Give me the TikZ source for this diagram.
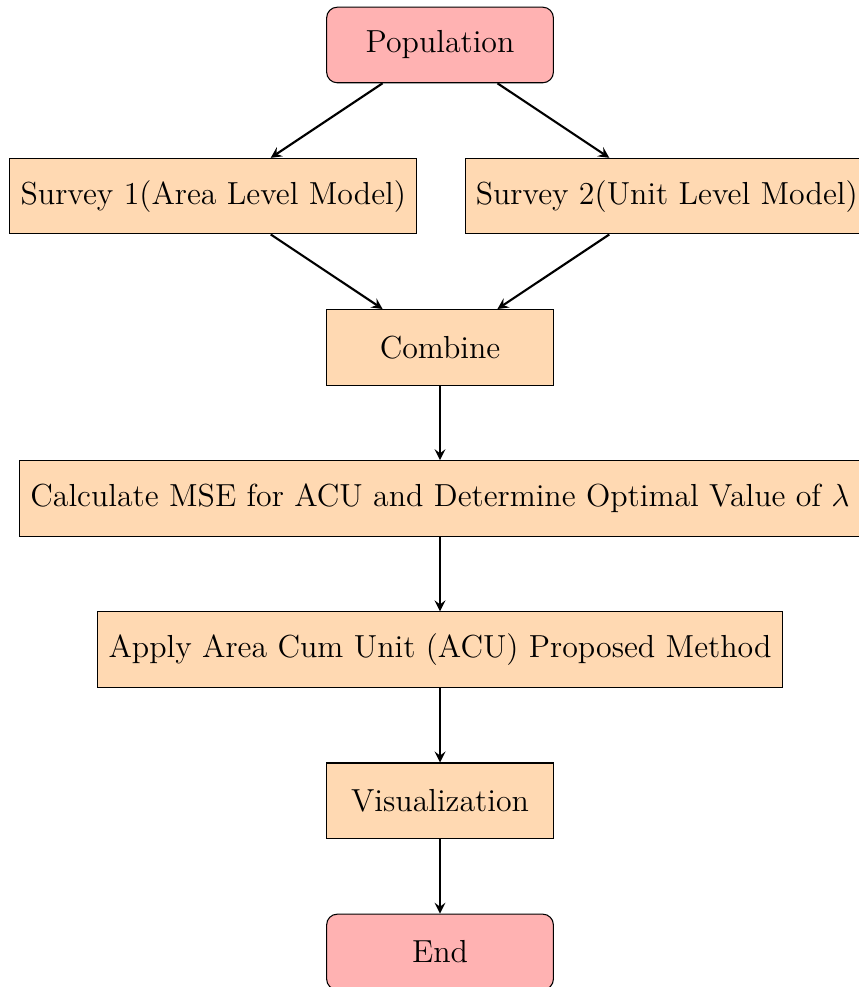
\documentclass[tikz,border=0pt,12pt]{standalone}
\usetikzlibrary{arrows}
\tikzset{
  startstop/.style={rectangle, rounded corners, minimum width=3cm, minimum height=1cm,
    text centered, draw=black, fill=red!30},
  process/.style={rectangle, minimum width=3cm, minimum height=1cm,
    text centered, draw=black, fill=orange!30},
  arrow/.style={thick, ->, >=stealth}
}
\begin{document}
\begin{tikzpicture}
\useasboundingbox (-5.822,-12.464) rectangle (5.543,0.595);
\node (pop) [startstop] at (0,0) {Population};
\node (s1) [process] at (-3,-2) {Survey 1(Area Level Model)};
\node (s2) [process] at (3,-2) {Survey 2(Unit Level Model)};
\node (comb) [process] at (0,-4) {Combine};
\node (calc) [process] at (0,-6) {Calculate MSE for ACU and Determine Optimal Value of $\lambda$};
\node (apply) [process] at (0,-8) {Apply Area Cum Unit (ACU) Proposed Method};
\node (vis) [process] at (0,-10) {Visualization};
\node (stop) [startstop] at (0,-12) {End};

\draw [arrow] (pop) -- (s1);
\draw [arrow] (pop) -- (s2);
\draw [arrow] (s1) -- (comb);
\draw [arrow] (s2) -- (comb);
\draw [arrow] (comb) -- (calc);
\draw [arrow] (calc) -- (apply);
\draw [arrow] (apply) -- (vis);
\draw [arrow] (vis) -- (stop);
\end{tikzpicture}
\end{document}
